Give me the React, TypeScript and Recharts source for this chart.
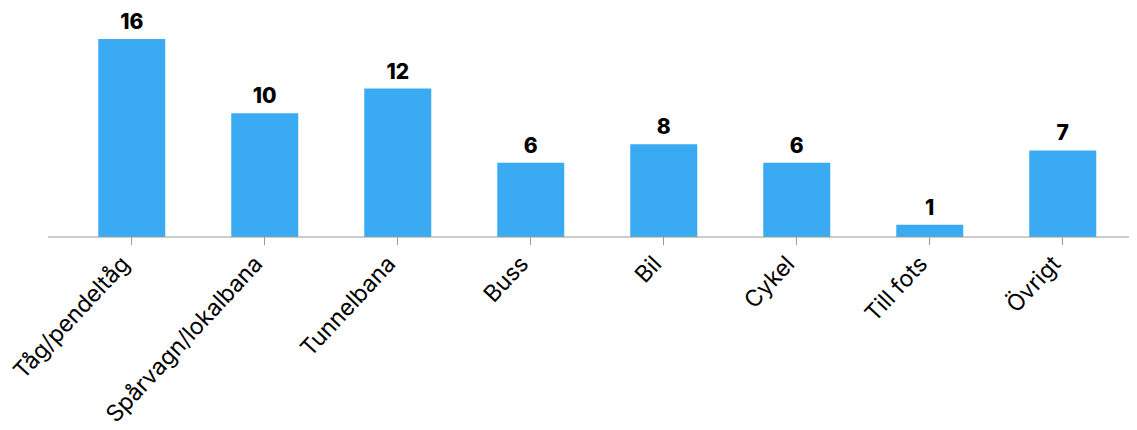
import { BarChart, Bar, XAxis, YAxis, LabelList } from 'recharts';

const categories = ['Tåg/pendeltåg', 'Spårvagn/lokalbana', 'Tunnelbana', 'Buss', 'Bil', 'Cykel', 'Till fots', 'Övrigt'];
const counts = [16, 10, 12, 6, 7.5, 6, 1, 7];

const data = categories.map((name, i) => ({ name, value: counts[i] }));

const FONT = 'Inter, sans-serif';

function AngledTick(props: any) {
  const { x, y, payload } = props;
  return (
    <g transform={`translate(${x - 5},${y + 14})`}>
      <text
        transform="rotate(-47)"
        textAnchor="end"
        dy={6}
        fontFamily={FONT}
        fontSize={23}
        fill="#000"
      >
        {payload.value}
      </text>
    </g>
  );
}

export default function App() {
  return (
    <div style={{ margin: -8, width: 1137, height: 430, background: '#fff' }}>
      <BarChart
        width={1137}
        height={430}
        data={data}
        margin={{ top: 39, right: 0, bottom: 0, left: 48 }}
        barCategoryGap="25%"
      >
        <YAxis hide domain={[0, 16]} />
        <XAxis
          dataKey="name"
          interval={0}
          height={193}
          padding={{ left: 17, right: 8 }}
          stroke="#999"
          tickSize={8}
          tick={<AngledTick />}
        />
        <Bar dataKey="value" fill="#3aabf2" isAnimationActive={false}>
          <LabelList
            dataKey="value"
            position="top"
            offset={10}
            formatter={(v: any) => Math.round(Number(v))}
            fontFamily={FONT}
            fontWeight={800}
            fontSize={21}
            fill="#000"
          />
        </Bar>
      </BarChart>
    </div>
  );
}
